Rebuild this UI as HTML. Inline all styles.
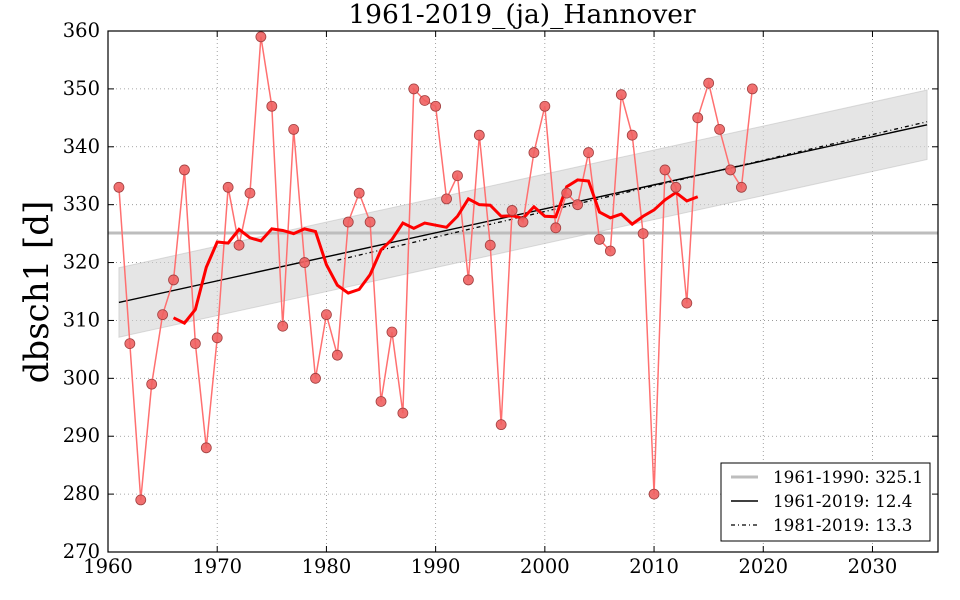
<!DOCTYPE html>
<html><head><meta charset="utf-8">
<style>
html,body{margin:0;padding:0;background:#fff;}
svg{display:block;font-family:"DejaVu Serif","Liberation Serif",serif;}
</style></head>
<body>
<svg id="c" width="960" height="600" xmlns="http://www.w3.org/2000/svg"></svg>
<script>
const X0=108,X1=938,Y0=31,Y1=552;
const xmin=1960,xmax=2036,ymin=270,ymax=360;
const sx=v=>X0+(v-xmin)*(X1-X0)/(xmax-xmin);
const sy=v=>Y1-(v-ymin)*(Y1-Y0)/(ymax-ymin);
const d=[333,306,279,299,311,317,336,306,288,307,333,323,332,359,347,309,343,320,300,311,304,327,332,327,296,308,294,350,348,347,331,335,317,342,323,292,329,327,339,347,326,332,330,339,324,322,349,342,325,280,336,333,313,345,351,343,336,333,350];
const yrs=d.map((_,i)=>1961+i);
function fit(a,b){let xs=[],ys=[];yrs.forEach((y,i)=>{if(y>=a&&y<=b){xs.push(y);ys.push(d[i]);}});
const n=xs.length,mx=xs.reduce((p,q)=>p+q)/n,my=ys.reduce((p,q)=>p+q)/n;let sxy=0,sxx=0;
xs.forEach((x,i)=>{sxy+=(x-mx)*(ys[i]-my);sxx+=(x-mx)**2});const m=sxy/sxx;return x=>my+m*(x-mx);}
let s='';
s+=`<rect x="${X0}" y="${Y0}" width="${X1-X0}" height="${Y1-Y0}" fill="#fff"/>`;
for(let x=1960;x<=2030;x+=10){s+=`<line x1="${sx(x)}" y1="${Y0}" x2="${sx(x)}" y2="${Y1}" stroke="#000" stroke-opacity="0.45" stroke-dasharray="1,3" stroke-width="0.8"/>`;}
for(let y=270;y<=360;y+=10){s+=`<line x1="${X0}" y1="${sy(y)}" x2="${X1}" y2="${sy(y)}" stroke="#000" stroke-opacity="0.45" stroke-dasharray="1,3" stroke-width="0.8"/>`;}
const f1=fit(1961,2019),f2=fit(1981,2019);
s+=`<polygon points="${sx(1961)},${sy(f1(1961)+6)} ${sx(2035)},${sy(f1(2035)+6)} ${sx(2035)},${sy(f1(2035)-6)} ${sx(1961)},${sy(f1(1961)-6)}" fill="#d3d3d3" fill-opacity="0.6" stroke="#bbb" stroke-opacity="0.5"/>`;
s+=`<line x1="${X0}" x2="${X1}" y1="${sy(325.1)}" y2="${sy(325.1)}" stroke="#bdbdbd" stroke-width="3"/>`;
s+=`<line x1="${sx(1961)}" y1="${sy(f1(1961))}" x2="${sx(2035)}" y2="${sy(f1(2035))}" stroke="#000" stroke-width="1.4"/>`;
s+=`<line x1="${sx(1981)}" y1="${sy(f2(1981))}" x2="${sx(2035)}" y2="${sy(f2(2035))}" stroke="#000" stroke-width="1.3" stroke-dasharray="4,3,1,3"/>`;
s+=`<polyline fill="none" stroke="#ff7070" stroke-width="1.5" points="${yrs.map((y,i)=>sx(y)+','+sy(d[i])).join(' ')}"/>`;
let ma=[];for(let i=5;i<d.length-5;i++){let t=0;for(let k=-5;k<=5;k++)t+=d[i+k];ma.push(sx(yrs[i])+','+sy(t/11));}
s+=`<polyline fill="none" stroke="#ff0000" stroke-width="3" points="${ma.join(' ')}"/>`;
yrs.forEach((y,i)=>{s+=`<circle cx="${sx(y)}" cy="${sy(d[i])}" r="5" fill="#f06060" fill-opacity="0.9" stroke="#a04040" stroke-width="0.8"/>`;});
s+=`<rect x="${X0}" y="${Y0}" width="${X1-X0}" height="${Y1-Y0}" fill="none" stroke="#000" stroke-width="1.2"/>`;
for(let x=1960;x<=2030;x+=10){const p=sx(x);s+=`<line x1="${p}" x2="${p}" y1="${Y1}" y2="${Y1-6}" stroke="#000"/><line x1="${p}" x2="${p}" y1="${Y0}" y2="${Y0+6}" stroke="#000"/><text x="${p}" y="${Y1+21}" font-size="19.5" text-anchor="middle">${x}</text>`;}
for(let y=270;y<=360;y+=10){const p=sy(y);s+=`<line x1="${X0}" x2="${X0+6}" y1="${p}" y2="${p}" stroke="#000"/><line x1="${X1}" x2="${X1-6}" y1="${p}" y2="${p}" stroke="#000"/><text x="${X0-8}" y="${p+6}" font-size="19.5" text-anchor="end">${y}</text>`;}
s+=`<text x="522" y="23" font-size="26.5" text-anchor="middle">1961-2019_(ja)_Hannover</text>`;
s+=`<text transform="translate(48,292) rotate(-90)" font-size="34" text-anchor="middle">dbsch1 [d]</text>`;
s+=`<rect x="721" y="463" width="209" height="78" fill="#fff" stroke="#000" stroke-width="1"/>`;
s+=`<line x1="731" x2="758" y1="477" y2="477" stroke="#bdbdbd" stroke-width="3"/><text x="773" y="483" font-size="16.8">1961-1990: 325.1</text>`;
s+=`<line x1="731" x2="758" y1="501" y2="501" stroke="#000" stroke-width="1.4"/><text x="773" y="507" font-size="16.8">1961-2019: 12.4</text>`;
s+=`<line x1="731" x2="758" y1="525" y2="525" stroke="#000" stroke-width="1.3" stroke-dasharray="4,3,1,3"/><text x="773" y="531" font-size="16.8">1981-2019: 13.3</text>`;
document.getElementById('c').innerHTML=s;
</script>
</body></html>
